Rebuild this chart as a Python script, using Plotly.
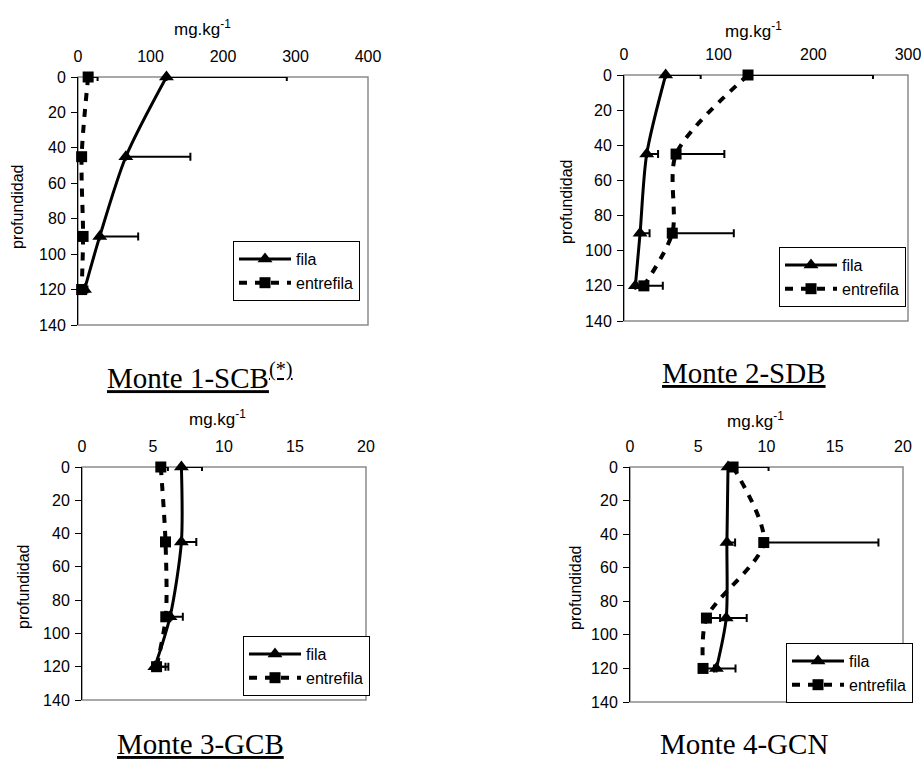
import plotly.graph_objects as go

# ---------------- data ----------------
depth = [0, 45, 90, 120]

m1_fila = [122, 66, 30, 9]
m1_fila_err = [166, 89, 53, 4]
m1_entre = [14, 5, 7, 5]
m1_entre_err = [13, 2, 3, 2]

m2_fila = [44, 24, 17, 12]
m2_fila_err = [37, 12, 10, 6]
m2_entre = [131, 55, 51, 21]
m2_entre_err = [132, 51, 65, 20]

m3_fila = [7.0, 7.0, 6.2, 5.13]
m3_fila_err = [1.45, 1.05, 0.9, 0.95]
m3_entre = [5.55, 5.88, 5.9, 5.25]
m3_entre_err = [0.5, 0.3, 0.4, 0.63]

m4_fila = [7.18, 7.1, 7.05, 6.33]
m4_fila_err = [0.5, 0.6, 1.5, 1.4]
m4_entre = [7.55, 9.8, 5.6, 5.35]
m4_entre_err = [2.6, 8.4, 1.0, 0.8]

x_ranges = [[0, 400], [0, 300], [0, 20], [0, 20]]
x_dticks = [100, 100, 5, 5]
captions = ["<u>Monte 1-SCB<sup>(*)</sup></u>", "<u>Monte 2-SDB</u>",
            "<u>Monte 3-GCB</u>", "Monte 4-GCN"]
x_title = "mg.kg<sup>-1</sup>"
y_title = "profundidad"
series_names = ["fila", "entrefila"]

panels = [
    (m1_fila, m1_fila_err, m1_entre, m1_entre_err),
    (m2_fila, m2_fila_err, m2_entre, m2_entre_err),
    (m3_fila, m3_fila_err, m3_entre, m3_entre_err),
    (m4_fila, m4_fila_err, m4_entre, m4_entre_err),
]

W, H = 921, 762
# plot-area pixel boxes (left, right, top, bottom)
boxes = [(78, 368, 77, 325), (624, 908, 75, 321), (82, 366, 467, 700), (630, 903, 467, 702)]
legend_pos = [(233, 241), (779, 247), (243, 636), (786, 643)]
xtitle_pos = [(202, 28), (753, 30), (217, 418), (755, 420)]
ytitle_pos = [(18, 207), (566, 202), (23, 587), (575, 588)]
caption_pos = [(200, 376), (744, 373), (200, 744), (744, 762)]
caption_anchor = ["middle", "middle", "middle", "bottom"]

FONT = "Liberation Sans, Arial, sans-serif"
SERIF = "Liberation Serif, Times New Roman, serif"

fig = go.Figure()
layout = dict(width=W, height=H, margin=dict(l=0, r=0, t=0, b=0, pad=0), autosize=False,
              paper_bgcolor="white", plot_bgcolor="white", showlegend=True,
              font=dict(family=FONT, color="black", size=16))
shapes = []
annotations = []

for i, (f, fe, e, ee) in enumerate(panels):
    n = "" if i == 0 else str(i + 1)
    xa, ya = "x" + n, "y" + n
    lg = "legend" + n
    fig.add_trace(go.Scatter(
        x=f, y=depth, xaxis=xa, yaxis=ya, name=series_names[0], legend=lg,
        legendgroup="a%d" % i, mode="lines+markers", cliponaxis=False,
        line=dict(color="black", width=3, shape="spline", smoothing=0.8),
        marker=dict(symbol="triangle-up", size=13, color="black"),
        error_x=dict(type="data", array=fe, arrayminus=[0] * len(fe), symmetric=False,
                     color="black", thickness=2, width=4)))
    fig.add_trace(go.Scatter(
        x=e, y=depth, xaxis=xa, yaxis=ya, name=series_names[1], legend=lg,
        legendgroup="b%d" % i, mode="lines+markers", cliponaxis=False,
        line=dict(color="black", width=4, shape="spline", smoothing=0.8, dash="8px,8px"),
        marker=dict(symbol="square", size=11, color="black"),
        error_x=dict(type="data", array=ee, arrayminus=[0] * len(ee), symmetric=False,
                     color="black", thickness=2, width=4)))

    l, r, t, b = boxes[i]
    layout["xaxis" + n] = dict(domain=[l / W, r / W], anchor=ya, side="top",
                               range=x_ranges[i], dtick=x_dticks[i], tick0=0,
                               automargin=False, ticklabeloverflow="allow",
                               showgrid=False, zeroline=False, showline=False,
                               ticks="", ticklabelstandoff=11,
                               tickfont=dict(size=16, family=FONT, color="black"))
    layout["yaxis" + n] = dict(domain=[1 - b / H, 1 - t / H], anchor=xa,
                               range=[140, 0], dtick=20, tick0=0, automargin=False,
                               ticklabeloverflow="allow",
                               showgrid=False, zeroline=False, showline=True,
                               linecolor="black", linewidth=1, ticks="outside",
                               ticklen=6, tickcolor="black", ticklabelstandoff=2,
                               tickfont=dict(size=16, family=FONT, color="black"))
    shapes.append(dict(type="rect", xref=xa + " domain", yref=ya + " domain",
                       x0=0, x1=1, y0=0, y1=1, layer="below",
                       line=dict(color="#8c8c8c", width=1.5)))
    lx, ly = legend_pos[i]
    layout[lg] = dict(x=lx / W, y=1 - ly / H, xanchor="left", yanchor="top",
                      xref="paper", yref="paper",
                      bgcolor="white", bordercolor="black", borderwidth=1,
                      font=dict(size=16, family=FONT, color="black"),
                      itemwidth=52, tracegroupgap=0, traceorder="grouped")
    tx, ty = xtitle_pos[i]
    annotations.append(dict(text=x_title, x=tx / W, y=1 - ty / H, xref="paper",
                            yref="paper", showarrow=False, xanchor="center",
                            yanchor="middle", font=dict(size=17, family=FONT)))
    yx, yy = ytitle_pos[i]
    annotations.append(dict(text=y_title, x=yx / W, y=1 - yy / H, xref="paper",
                            yref="paper", showarrow=False, textangle=-90,
                            xanchor="center", yanchor="middle",
                            font=dict(size=16, family=FONT)))
    cx, cy = caption_pos[i]
    annotations.append(dict(text=captions[i], x=cx / W, y=1 - cy / H, xref="paper",
                            yref="paper", showarrow=False, xanchor="center",
                            yanchor=caption_anchor[i], font=dict(size=29, family=SERIF)))

layout["shapes"] = shapes
layout["annotations"] = annotations
fig.update_layout(**layout)
fig.write_html("out.html", config={"displayModeBar": False},
               post_script="document.body.style.margin='0';document.body.style.overflow='hidden';")
